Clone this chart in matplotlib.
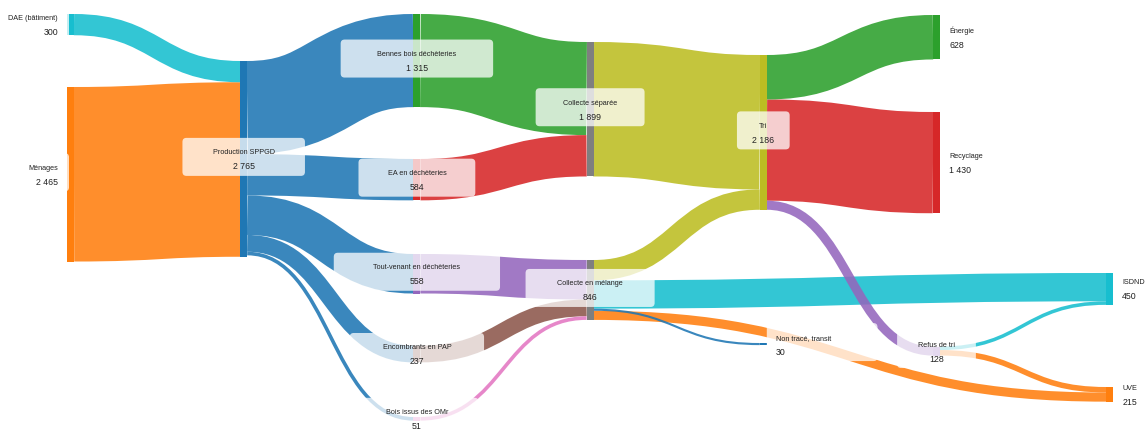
import matplotlib
matplotlib.use('Agg')
import matplotlib.pyplot as plt
from matplotlib.path import Path
from matplotlib.patches import PathPatch, Rectangle, FancyBboxPatch

plt.rcParams['font.family'] = ['Liberation Sans', 'DejaVu Sans']

# Nodes (values as displayed on the chart)
node_names = ['DAE (bâtiment)', 'Ménages', 'Production SPPGD',
              'Bennes bois déchèteries', 'EA en déchèteries',
              'Tout-venant en déchèteries', 'Encombrants en PAP',
              'Bois issus des OMr', 'Collecte séparée', 'Collecte en mélange',
              'Tri', 'Non tracé, transit', 'Énergie', 'Recyclage',
              'Refus de tri', 'ISDND', 'UVE']
node_values = [300, 2465, 2765, 1315, 584, 558, 237, 51, 1899, 846,
               2186, 30, 628, 1430, 128, 450, 215]

# Links
link_source = ['DAE (bâtiment)', 'Ménages',
               'Production SPPGD', 'Production SPPGD', 'Production SPPGD',
               'Production SPPGD', 'Production SPPGD',
               'Bennes bois déchèteries', 'EA en déchèteries',
               'Tout-venant en déchèteries', 'Encombrants en PAP', 'Bois issus des OMr',
               'Collecte séparée', 'Collecte en mélange', 'Collecte en mélange',
               'Collecte en mélange', 'Tri', 'Tri', 'Tri',
               'Refus de tri', 'Refus de tri', 'Collecte en mélange']
link_target = ['Production SPPGD', 'Production SPPGD',
               'Bennes bois déchèteries', 'EA en déchèteries',
               'Tout-venant en déchèteries', 'Encombrants en PAP', 'Bois issus des OMr',
               'Collecte séparée', 'Collecte séparée',
               'Collecte en mélange', 'Collecte en mélange', 'Collecte en mélange',
               'Tri', 'Tri', 'ISDND', 'Non tracé, transit',
               'Énergie', 'Recyclage', 'Refus de tri',
               'ISDND', 'UVE', 'UVE']
link_values = [300, 2465, 1315, 584, 558, 237, 51, 1315, 584, 558, 237, 51,
               1899, 287, 400, 30, 628, 1430, 128, 50, 78, 129]

# Layout (pixels) and style
W, H, DPI = 1146, 430, 100
PX = 0.0708            # pixels per unit
COL_X0, COL_DX, NODE_W = 67, 173.2, 7
node_column = [0, 0, 1, 2, 2, 2, 2, 2, 3, 3, 4, 4, 5, 5, 5, 6, 6]
node_top = [14, 87, 61, 14, 159, 254, 345.6, 417, 42, 260, 55, 343,
            15, 112, 346.5, 273, 387]
node_colors = ['#17becf', '#ff7f0e', '#1f77b4', '#2ca02c', '#d62728',
               '#9467bd', '#8c564b', '#e377c2', '#7f7f7f', '#7f7f7f',
               '#bcbd22', '#1f77b4', '#2ca02c', '#d62728', '#9467bd',
               '#17becf', '#ff7f0e']

idx = {name: i for i, name in enumerate(node_names)}

fig = plt.figure(figsize=(W / DPI, H / DPI), dpi=DPI)
ax = fig.add_axes([0, 0, 1, 1])
ax.set_xlim(0, W)
ax.set_ylim(H, 0)
ax.axis('off')

node_x = [COL_X0 + c * COL_DX for c in node_column]
out_off = [0.0] * len(node_names)
in_off = [0.0] * len(node_names)
has_in = [False] * len(node_names)
has_out = [False] * len(node_names)

links = []
for s_name, t_name, v in zip(link_source, link_target, link_values):
    s, t = idx[s_name], idx[t_name]
    w = v * PX
    y0 = node_top[s] + out_off[s] + w / 2
    y1 = node_top[t] + in_off[t] + w / 2
    out_off[s] += w
    in_off[t] += w
    has_out[s] = True
    has_in[t] = True
    color = node_colors[s] if node_column[s] < 3 else node_colors[t]
    links.append((v, s, t, y0, y1, w, color))

# thicker links first, thin ones on top
for v, s, t, y0, y1, w, color in sorted(links, key=lambda l: -l[0]):
    x0 = node_x[s] + NODE_W
    x1 = node_x[t]
    xm = (x0 + x1) / 2
    path = Path([(x0, y0), (xm, y0), (xm, y1), (x1, y1)],
                [Path.MOVETO, Path.CURVE4, Path.CURVE4, Path.CURVE4])
    ax.add_patch(PathPatch(path, fill=False, edgecolor=color, alpha=0.88,
                           lw=w * 72 / DPI, capstyle='butt', zorder=1))

for i, name in enumerate(node_names):
    ax.add_patch(Rectangle((node_x[i], node_top[i]), NODE_W, node_values[i] * PX,
                           facecolor=node_colors[i], edgecolor='none', zorder=2))

renderer = fig.canvas.get_renderer()
for i, name in enumerate(node_names):
    h = node_values[i] * PX
    cy = node_top[i] + h / 2
    value_txt = f'{node_values[i]:,}'.replace(',', ' ')
    if has_in[i] and has_out[i]:
        tx, ha = node_x[i] + NODE_W / 2, 'center'
    elif not has_in[i]:
        tx, ha = node_x[i] - 9, 'right'
    else:
        tx, ha = node_x[i] + NODE_W + 9, 'left'
    t1 = ax.text(tx, cy - 6, name, fontsize=5.2, ha=ha, va='center',
                 color='#222222', zorder=4)
    t2 = ax.text(tx, cy + 8, value_txt, fontsize=6.3, ha=ha, va='center',
                 color='#222222', zorder=4)
    tw = max(t1.get_window_extent(renderer).width,
             t2.get_window_extent(renderer).width)
    bw = 1.75 * tw + 14
    if ha == 'center':
        bx = tx - bw / 2
    elif ha == 'right':
        bx = node_x[i] + 2 - bw
    else:
        bx = node_x[i] + NODE_W
    ax.add_patch(FancyBboxPatch((bx, cy - 21), bw, 38,
                                boxstyle='round,pad=0,rounding_size=4',
                                facecolor='white', edgecolor='none',
                                alpha=0.75, zorder=3))

fig.savefig('out.png', dpi=DPI)
